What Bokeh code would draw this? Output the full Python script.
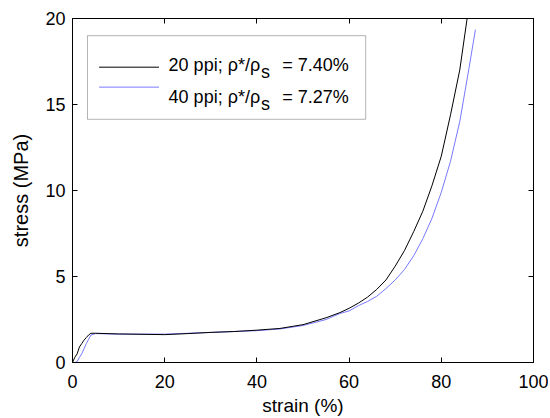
from bokeh.plotting import figure
from bokeh.models import (Range1d, FixedTicker, LinearAxis, Label, BoxAnnotation,
                          ColumnDataSource, CustomLabelingPolicy)
from bokeh.embed import file_html
from bokeh.resources import INLINE

# ---- data ----
strain_20ppi = [0, 0.5, 1, 1.5, 2, 2.5, 3, 3.5, 4, 5, 10, 20, 25, 30, 35, 40, 45, 50, 55, 58, 60,
                62, 64, 66, 68, 70, 72, 74, 76, 78, 80, 82, 84, 85.6]
stress_20ppi = [0, 0.3, 0.5, 0.9, 1.1, 1.3, 1.45, 1.6, 1.7, 1.7, 1.66, 1.62, 1.68, 1.75, 1.8, 1.88,
                1.98, 2.2, 2.6, 2.9, 3.15, 3.45, 3.8, 4.25, 4.8, 5.6, 6.5, 7.6, 8.8, 10.3, 12.0,
                14.4, 17.0, 20.0]
strain_40ppi = [0, 0.5, 1, 1.5, 2, 2.5, 3, 3.5, 4, 5, 10, 20, 30, 40, 45, 50, 55, 58, 60, 62, 64,
                66, 68, 70, 72, 74, 76, 78, 80, 82, 84, 86, 87.4]
stress_40ppi = [0, 0.0, 0.05, 0.3, 0.5, 0.8, 1.1, 1.35, 1.6, 1.68, 1.65, 1.65, 1.75, 1.85, 1.95,
                2.15, 2.5, 2.85, 3.0, 3.3, 3.55, 3.85, 4.3, 4.8, 5.4, 6.2, 7.2, 8.4, 9.9, 11.7,
                14.0, 17.1, 19.35]
x_ticks = [0, 20, 40, 60, 80, 100]
y_ticks = [0, 5, 10, 15, 20]
labels = ["20 ppi; \u03c1*/\u03c1", "40 ppi; \u03c1*/\u03c1"]
sub = "s"
values = ["= 7.40%", "= 7.27%"]

FONT = "Liberation Sans"
BLUE = "#7878ff"

p = figure(frame_width=461, frame_height=344, output_backend="svg", toolbar_location=None,
           x_range=Range1d(0, 100), y_range=Range1d(0, 20),
           min_border_left=72, min_border_right=9, min_border_top=18, min_border_bottom=48)
p.background_fill_color = "white"
p.border_fill_color = "white"
p.outline_line_color = "black"
p.grid.visible = False

def style_axis(ax, show_labels=True):
    ax.axis_line_color = "black"
    ax.axis_line_width = 1
    ax.major_tick_line_color = "black"
    ax.major_tick_in = 5
    ax.major_tick_out = 0
    ax.minor_tick_line_color = None
    if show_labels:
        ax.major_label_text_font = FONT
        ax.major_label_text_font_size = "18px"
        ax.major_label_text_color = "black"
    else:
        ax.major_label_policy = CustomLabelingPolicy(
            code="return new indices.constructor(indices.size, 0)")
        ax.major_label_standoff = 0

p.xaxis.ticker = FixedTicker(ticks=x_ticks)
p.yaxis.ticker = FixedTicker(ticks=y_ticks)
style_axis(p.xaxis[0])
style_axis(p.yaxis[0])
p.xaxis.major_label_standoff = 12
p.yaxis.major_label_standoff = 7
p.xaxis.axis_label = "strain (%)"
p.yaxis.axis_label = "stress (MPa)"
for ax in (p.xaxis[0], p.yaxis[0]):
    ax.axis_label_text_font = FONT
    ax.axis_label_text_font_style = "normal"
    ax.axis_label_text_color = "black"
p.xaxis.axis_label_text_font_size = "19px"
p.yaxis.axis_label_text_font_size = "20px"
p.xaxis.axis_label_standoff = 4
p.yaxis.axis_label_standoff = 10

top = LinearAxis(ticker=FixedTicker(ticks=x_ticks))
right = LinearAxis(ticker=FixedTicker(ticks=y_ticks))
style_axis(top, False)
style_axis(right, False)
p.add_layout(top, "above")
p.add_layout(right, "right")

src20 = ColumnDataSource(dict(x=strain_20ppi, y=stress_20ppi))
src40 = ColumnDataSource(dict(x=strain_40ppi, y=stress_40ppi))
p.line("x", "y", source=src40, line_color=BLUE, line_width=1)
p.line("x", "y", source=src20, line_color="black", line_width=1)

# ---- manual legend (MATLAB style, with subscript) ----
p.add_layout(BoxAnnotation(left=3.25, right=63.6, top=19.0, bottom=14.14,
                           fill_color="white", fill_alpha=1.0, level="underlay",
                           line_color="black", line_width=1))
p.segment(x0=[5.77, 5.77], x1=[18.77, 18.77], y0=[17.17, 16.01], y1=[17.17, 16.01],
          line_color=["black", BLUE], line_width=1)
base_y = [17.3, 15.46]
for i in range(2):
    p.add_layout(Label(x=40.7, y=base_y[i], text=labels[i], text_font=FONT,
                       text_font_size="18px", text_color="black",
                       text_baseline="alphabetic", text_align="right"))
    p.add_layout(Label(x=40.9, y=base_y[i] - 0.42, text=sub, text_font=FONT,
                       text_font_size="18px", text_color="black", text_baseline="alphabetic"))
    p.add_layout(Label(x=45.5, y=base_y[i], text=values[i], text_font=FONT,
                       text_font_size="18px", text_color="black", text_baseline="alphabetic"))

open("out.html", "w").write(file_html(p, INLINE))
